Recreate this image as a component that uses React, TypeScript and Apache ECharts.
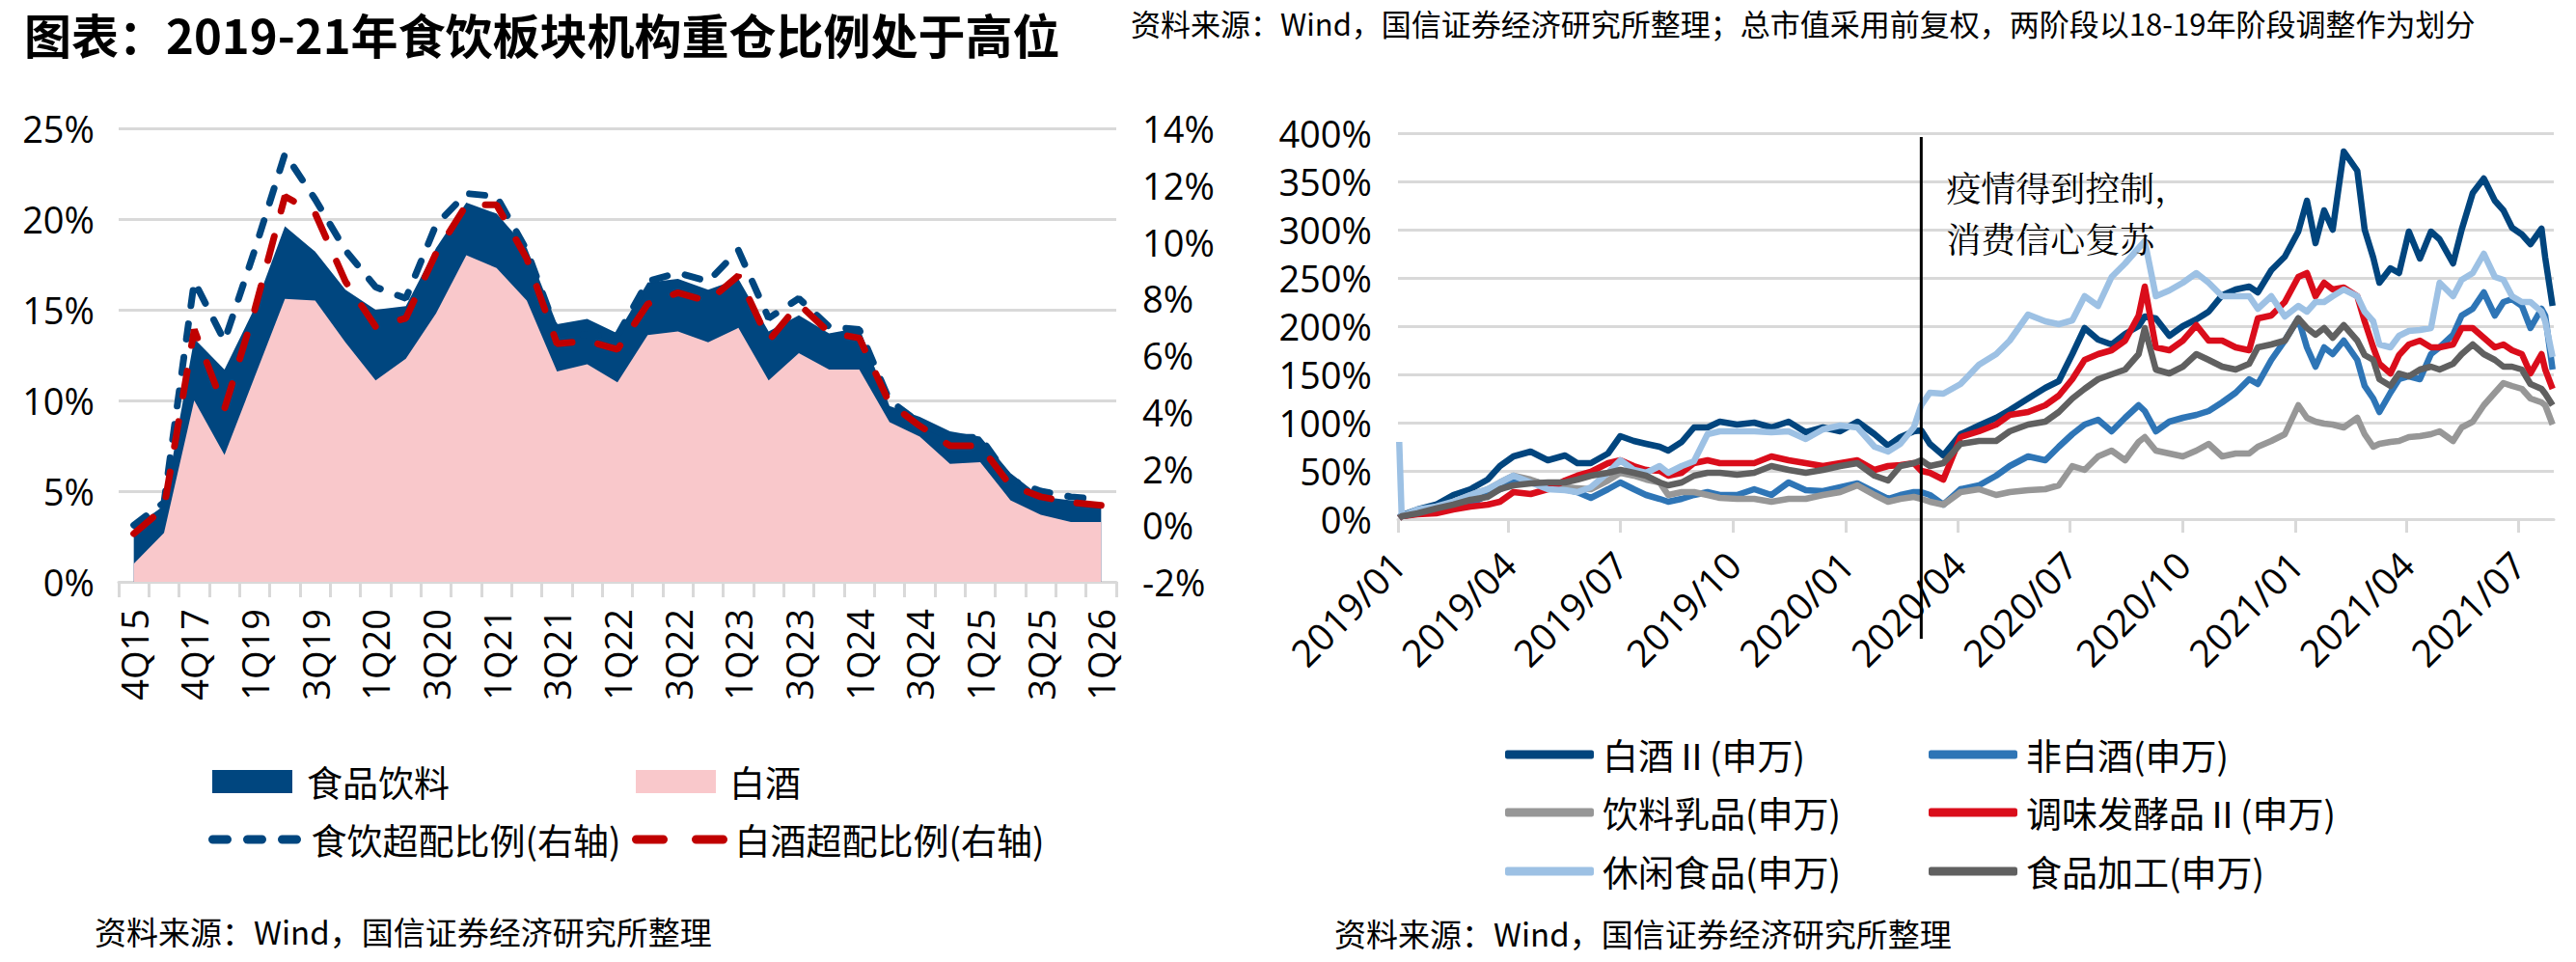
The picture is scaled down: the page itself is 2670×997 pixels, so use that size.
import React, { useEffect, useRef } from 'react';
import * as echarts from 'echarts';

// ---------- Left chart data ----------
const quarters = ['4Q15','4Q16','4Q17','4Q18','1Q19','2Q19','3Q19','4Q19','1Q20','2Q20','3Q20','4Q20','1Q21','2Q21','3Q21','4Q21','1Q22','2Q22','3Q22','4Q22','1Q23','2Q23','3Q23','4Q23','1Q24','2Q24','3Q24','4Q24','1Q25','2Q25','3Q25','4Q25','1Q26'];
const foodBev = [3.0, 4.2, 13.4, 11.7, 15.1, 19.6, 18.2, 16.1, 15.0, 15.2, 18.4, 20.9, 20.3, 18.4, 14.2, 14.5, 13.7, 16.5, 16.7, 16.1, 16.7, 13.8, 14.7, 13.7, 14.0, 9.7, 9.1, 8.3, 8.0, 6.0, 4.7, 4.5, 4.3];
const baijiu = [1.0, 2.7, 10.0, 7.0, 11.3, 15.6, 15.5, 13.2, 11.1, 12.3, 14.8, 18.0, 17.3, 15.5, 11.6, 12.0, 11.0, 13.6, 13.8, 13.2, 14.0, 11.1, 12.6, 11.7, 11.7, 8.8, 8.0, 6.5, 6.6, 4.5, 3.7, 3.3, 3.3];
const foodOver = [0.0, 0.8, 8.6, 6.5, 9.7, 13.1, 11.5, 9.7, 8.4, 8.0, 10.6, 11.7, 11.6, 9.7, 6.8, 6.7, 6.7, 8.6, 8.9, 8.6, 9.7, 7.3, 8.0, 7.0, 6.9, 4.4, 3.6, 3.1, 3.1, 1.6, 1.2, 1.0, 0.9];
const baijiuOver = [-0.3, 0.6, 6.9, 4.1, 7.6, 11.6, 11.0, 8.6, 7.0, 7.3, 9.6, 11.3, 11.3, 9.4, 6.4, 6.5, 6.2, 7.8, 8.2, 7.9, 8.8, 6.5, 7.8, 6.8, 6.6, 4.3, 3.5, 2.8, 2.8, 1.4, 1.0, 0.8, 0.7];

// ---------- Right chart data ----------
const dates = ['2019-01-02','2019-01-04','2019-01-17','2019-02-01','2019-02-15','2019-03-01','2019-03-15','2019-03-25','2019-04-05','2019-04-19','2019-05-03','2019-05-17','2019-05-27','2019-06-07','2019-06-21','2019-07-01','2019-07-12','2019-07-22','2019-08-02','2019-08-09','2019-08-20','2019-08-30','2019-09-10','2019-09-20','2019-10-04','2019-10-18','2019-11-01','2019-11-15','2019-11-29','2019-12-13','2019-12-27','2020-01-10','2020-01-24','2020-02-04','2020-02-14','2020-02-25','2020-03-02',
'2020-03-09','2020-03-20','2020-04-03','2020-04-18','2020-05-02','2020-05-13','2020-05-28','2020-06-11','2020-06-22','2020-07-03','2020-07-13','2020-07-24','2020-08-04','2020-08-15','2020-08-26','2020-08-31','2020-09-09','2020-09-20','2020-10-01','2020-10-12','2020-10-22','2020-11-02','2020-11-13','2020-11-24','2020-12-01','2020-12-12','2020-12-23','2021-01-03','2021-01-10','2021-01-17','2021-01-24','2021-01-31','2021-02-09','2021-02-20','2021-02-26','2021-03-05','2021-03-10','2021-03-19','2021-03-26','2021-04-03','2021-04-12','2021-04-21','2021-04-28','2021-05-09','2021-05-16','2021-05-25','2021-06-03','2021-06-12','2021-06-19','2021-06-26','2021-07-04','2021-07-11','2021-07-20','2021-07-23','2021-07-29'];
const swBaijiu = [2,4,10,15,25,31,41,55,65,70,61,66,58,58,68,86,81,78,75,71,80,95,95,101,98,100,95,101,90,95,91,101,88,76,85,91,92,
78,66,88,97,105,113,125,136,143,171,198,186,181,192,200,210,208,190,200,207,215,232,238,241,235,258,272,298,330,286,320,300,381,361,300,271,245,260,255,298,270,298,290,265,300,338,353,330,320,302,295,285,301,271,221];
const swNonBaijiu = [1,3,6,8,11,16,25,31,38,40,35,31,28,22,31,38,31,25,21,18,21,25,28,25,25,31,25,38,30,29,33,37,28,21,25,28,28,
25,15,31,35,45,55,65,61,75,88,98,103,91,105,118,112,91,101,105,108,112,121,131,145,140,165,185,208,178,158,178,171,185,165,138,125,111,131,145,148,145,171,178,191,211,218,235,211,225,228,221,198,218,211,155];
const swDrinkDairy = [1,3,6,11,18,25,31,38,45,41,35,33,32,31,40,48,45,41,38,25,28,28,25,22,21,21,18,21,21,25,28,35,25,18,21,23,21,
18,15,28,31,25,28,30,31,35,55,51,65,71,61,80,85,71,68,65,71,78,65,68,68,75,81,88,118,105,101,99,98,95,105,88,75,78,80,81,85,86,88,91,81,95,101,118,131,141,138,135,125,121,118,98];
const swSeasoning = [1,3,5,6,10,13,15,18,28,26,31,40,45,49,58,61,55,51,50,45,48,58,61,58,58,58,65,61,58,55,58,61,51,55,56,58,50,
48,41,85,91,98,108,111,118,128,145,165,171,175,185,211,241,178,175,185,201,185,185,178,175,208,211,225,251,255,231,245,238,240,231,205,178,161,151,170,181,185,178,178,181,198,198,188,178,181,175,171,151,171,155,135];
const swSnack = [80,3,10,13,18,25,31,38,45,38,31,30,28,33,48,61,51,48,55,48,55,60,88,91,91,91,90,91,83,93,97,95,75,70,78,95,118,
131,130,140,160,171,185,212,205,202,206,231,221,251,265,281,288,231,237,245,255,245,231,231,231,218,231,210,221,215,225,225,231,238,231,215,205,181,178,190,195,196,198,245,231,248,255,275,251,248,231,225,225,215,205,168];
const swProcessed = [1,3,6,11,15,20,23,31,35,37,38,38,41,45,48,51,48,45,38,35,38,45,48,48,46,48,55,51,48,51,55,58,45,40,55,58,61,
55,58,78,81,81,91,98,101,111,125,135,145,150,155,171,198,155,151,158,171,165,158,155,161,178,181,185,208,198,191,198,188,201,185,170,165,145,138,151,148,155,158,155,161,171,181,171,165,158,158,155,140,135,130,118];
const quarterTicks = ['2019-01-01','2019-04-01','2019-07-01','2019-10-01','2020-01-01','2020-04-01','2020-07-01','2020-10-01','2021-01-01','2021-04-01','2021-07-01'];
const axisStart = '2019-01-01';
const axisEnd = '2021-07-30';
const eventDate = '2020-03-02';

const CJK = '"Noto Sans CJK SC", sans-serif';
const LAT = '"Open Sans", "Noto Sans CJK SC", sans-serif';
const GRID = '#D9D9D9';
const DAY = 86400000;

const toTs = (s: string) => {
  const [y, m, d] = s.split('-').map(Number);
  return Date.UTC(y, m - 1, d);
};
const toDay = (s: string) => Math.round((toTs(s) - toTs(axisStart)) / DAY);
const dayLabel = (n: number) => {
  const d = new Date(toTs(axisStart) + n * DAY);
  return d.getUTCFullYear() + '/' + String(d.getUTCMonth() + 1).padStart(2, '0');
};
const pair = (vals: number[]) => dates.map((d, i) => [toDay(d), vals[i]]);

function legendItem(name: string, left: number, cy: number, opts: any) {
  return {
    data: [name],
    left,
    top: cy - 22,
    padding: 0,
    itemGap: 0,
    textStyle: { fontSize: 37, color: '#000', fontFamily: CJK, lineHeight: 44, padding: [0, 0, 0, opts.textPad ?? 4] },
    ...opts.extra,
  };
}

export default function App() {
  const ref = useRef<HTMLDivElement>(null);
  useEffect(() => {
    const chart = echarts.init(ref.current!, null, { renderer: 'svg' });
    const rightSeries = [
      { name: '白酒Ⅱ(申万)', color: '#01457E', data: swBaijiu },
      { name: '非白酒(申万)', color: '#2E75B6', data: swNonBaijiu },
      { name: '饮料乳品(申万)', color: '#979797', data: swDrinkDairy },
      { name: '调味发酵品Ⅱ(申万)', color: '#DA0D1B', data: swSeasoning },
      { name: '休闲食品(申万)', color: '#9DC1E4', data: swSnack },
      { name: '食品加工(申万)', color: '#606060', data: swProcessed },
    ];
    const qDays = quarterTicks.map(toDay);
    const blueDashLegend = { itemWidth: 91, itemHeight: 20, itemStyle: { opacity: 0 }, lineStyle: { width: 9, type: [15, 21], cap: 'round' } };
    const redDashLegend = { itemWidth: 91, itemHeight: 20, itemStyle: { opacity: 0 }, lineStyle: { width: 9, type: [28, 34], cap: 'round' } };
    const lineLegend = { icon: 'roundRect', itemWidth: 92, itemHeight: 9 };
    const option: any = {
      animation: false,
      grid: [
        { left: 123, top: 133, width: 1034, height: 470 },
        { left: 1449, top: 138, width: 1198, height: 400 },
      ],
      xAxis: [
        {
          type: 'category', gridIndex: 0, data: quarters, boundaryGap: true,
          axisLine: { lineStyle: { color: GRID, width: 3 } },
          axisTick: { show: true, interval: 0, length: 16, lineStyle: { color: GRID, width: 3 } },
          axisLabel: { interval: 1, rotate: 90, margin: 28, fontSize: 38, color: '#000', fontFamily: LAT },
          splitLine: { show: false },
        },
        {
          type: 'value', gridIndex: 1, min: 0, max: toDay(axisEnd),
          axisLine: { lineStyle: { color: GRID, width: 3 } },
          axisTick: { show: true, length: 14, lineStyle: { color: GRID, width: 3 }, customValues: qDays },
          axisLabel: {
            rotate: 45, margin: 40, fontSize: 39, color: '#000', fontFamily: LAT, hideOverlap: false,
            customValues: qDays,
            formatter: (v: number) => dayLabel(v),
          },
          splitLine: { show: false },
        },
      ],
      yAxis: [
        {
          type: 'value', gridIndex: 0, min: 0, max: 25, interval: 5,
          axisLabel: { formatter: '{value}%', fontSize: 38, color: '#000', fontFamily: LAT, margin: 25 },
          axisLine: { show: false }, axisTick: { show: false },
          splitLine: { lineStyle: { color: GRID, width: 3 } },
        },
        {
          type: 'value', gridIndex: 0, min: -2, max: 14, interval: 2, position: 'right',
          axisLabel: { formatter: '{value}%', fontSize: 38, color: '#000', fontFamily: LAT, margin: 27 },
          axisLine: { show: false }, axisTick: { show: false }, splitLine: { show: false },
        },
        {
          type: 'value', gridIndex: 1, min: 0, max: 400, interval: 50,
          axisLabel: { formatter: '{value}%', fontSize: 38, color: '#000', fontFamily: LAT, margin: 27 },
          axisLine: { show: false }, axisTick: { show: false },
          splitLine: { lineStyle: { color: GRID, width: 3 } },
        },
      ],
      legend: [
        legendItem('食品饮料', 220, 810, { textPad: 10, extra: { icon: 'rect', itemWidth: 83, itemHeight: 24 } }),
        legendItem('白酒', 659, 810, { textPad: 9, extra: { icon: 'rect', itemWidth: 83, itemHeight: 24 } }),
        legendItem('食饮超配比例(右轴)', 216, 870, { textPad: 6, extra: blueDashLegend }),
        legendItem('白酒超配比例(右轴)', 655, 870, { textPad: 6, extra: redDashLegend }),
        legendItem('白酒Ⅱ(申万)', 1560, 782, { extra: lineLegend }),
        legendItem('非白酒(申万)', 1999, 782, { extra: lineLegend }),
        legendItem('饮料乳品(申万)', 1560, 842, { extra: lineLegend }),
        legendItem('调味发酵品Ⅱ(申万)', 1999, 842, { extra: lineLegend }),
        legendItem('休闲食品(申万)', 1560, 903, { extra: lineLegend }),
        legendItem('食品加工(申万)', 1999, 903, { extra: lineLegend }),
      ],
      series: [
        {
          name: '食品饮料', type: 'line', xAxisIndex: 0, yAxisIndex: 0, data: foodBev,
          symbol: 'none', color: '#00467F', lineStyle: { width: 0 },
          areaStyle: { color: '#00467F', opacity: 1 },
        },
        {
          name: '白酒', type: 'line', xAxisIndex: 0, yAxisIndex: 0, data: baijiu,
          symbol: 'none', color: '#F9C8CB', lineStyle: { width: 0 },
          areaStyle: { color: '#F9C8CB', opacity: 1 },
        },
        {
          name: '食饮超配比例(右轴)', type: 'line', xAxisIndex: 0, yAxisIndex: 1, data: foodOver,
          symbol: 'none', color: '#00467F',
          lineStyle: { width: 7, type: [16, 19], cap: 'round', color: '#00467F' },
        },
        {
          name: '白酒超配比例(右轴)', type: 'line', xAxisIndex: 0, yAxisIndex: 1, data: baijiuOver,
          symbol: 'none', color: '#C00000',
          lineStyle: { width: 7, type: [26, 27], cap: 'round', color: '#C00000' },
        },
        ...rightSeries.map((s) => ({
          name: s.name, type: 'line', xAxisIndex: 1, yAxisIndex: 2, data: pair(s.data),
          symbol: 'none', color: s.color, lineStyle: { width: 6.5, color: s.color, join: 'round' },
        })),
      ],
    };
    chart.setOption(option);
    const lx = chart.convertToPixel({ xAxisIndex: 1 }, toDay(eventDate)) as number;
    chart.setOption({
      graphic: [
        { type: 'text', x: 25, y: 34, style: { text: '图表：2019-21年食饮板块机构重仓比例处于高位', fontSize: 49, fontWeight: 'bold', fontFamily: CJK, fill: '#000', verticalAlign: 'middle' } },
        { type: 'text', x: 1172, y: 23, style: { text: '资料来源：Wind，国信证券经济研究所整理；总市值采用前复权，两阶段以18-19年阶段调整作为划分', fontSize: 31, fontFamily: CJK, fill: '#000', verticalAlign: 'middle' } },
        { type: 'text', x: 98, y: 965, style: { text: '资料来源：Wind，国信证券经济研究所整理', fontSize: 33, fontFamily: CJK, fill: '#000', verticalAlign: 'middle' } },
        { type: 'text', x: 1383, y: 967, style: { text: '资料来源：Wind，国信证券经济研究所整理', fontSize: 33, fontFamily: CJK, fill: '#000', verticalAlign: 'middle' } },
        { type: 'line', shape: { x1: lx, y1: 142, x2: lx, y2: 662 }, style: { stroke: '#000', lineWidth: 3 }, z: 100 },
        { type: 'text', x: lx + 26, y: 193, style: { text: '疫情得到控制，', fontSize: 36, fontFamily: '"Noto Serif CJK SC", ' + CJK, fill: '#000', verticalAlign: 'middle' }, z: 100 },
        { type: 'text', x: lx + 26, y: 246, style: { text: '消费信心复苏', fontSize: 36, fontFamily: '"Noto Serif CJK SC", ' + CJK, fill: '#000', verticalAlign: 'middle' }, z: 100 },
      ],
    });
    return () => chart.dispose();
  }, []);
  return <div ref={ref} style={{ position: 'fixed', left: 0, top: 0, width: 2670, height: 997, background: '#fff' }} />;
}
